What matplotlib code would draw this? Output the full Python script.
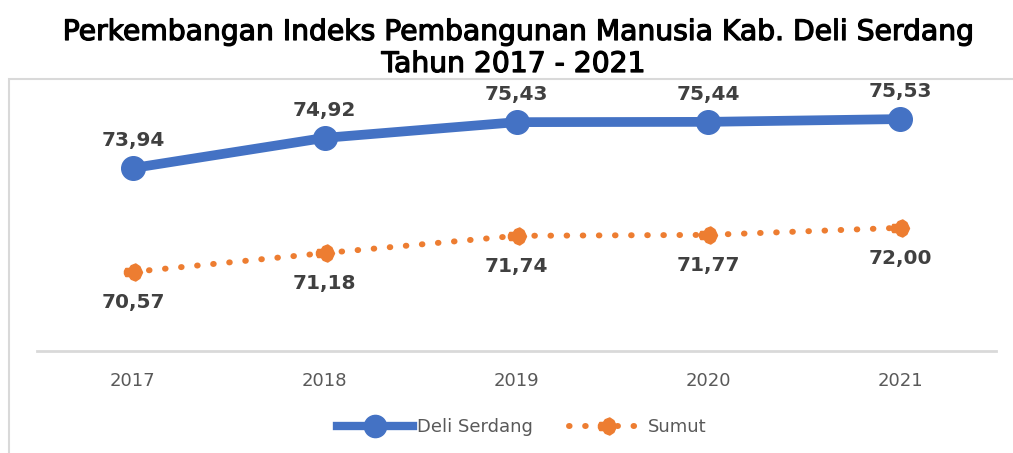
import matplotlib
matplotlib.use("Agg")
import matplotlib.pyplot as plt
import matplotlib.patheffects as pe
from matplotlib.path import Path
from matplotlib.patches import Rectangle
from matplotlib.lines import Line2D

years = ["2017", "2018", "2019", "2020", "2021"]
deli_serdang = [73.94, 74.92, 75.43, 75.44, 75.53]
sumut = [70.57, 71.18, 71.74, 71.77, 72.00]
title_lines = ["Perkembangan Indeks Pembangunan Manusia Kab. Deli Serdang", "Tahun 2017 - 2021"]
series_names = ["Deli Serdang", "Sumut"]

blue = "#4472C4"
orange = "#ED7D31"
label_col = "#404040"
tick_col = "#595959"

W, H = 1013, 453

verts = [(-1, 0.15), (-0.85, 0.45), (-0.45, 0.45), (-0.25, 0.75), (0.25, 0.95),
         (0.7, 0.65), (1, 0), (0.7, -0.65), (0.25, -0.95), (-0.25, -0.75),
         (-0.45, -0.45), (-0.85, -0.45), (-1, -0.15), (-1, 0.15)]
arrow_marker = Path(verts, [Path.MOVETO] + [Path.LINETO] * (len(verts) - 2) + [Path.CLOSEPOLY])

fig = plt.figure(figsize=(W / 100, H / 100), dpi=100)
fig.patch.set_facecolor("white")

# chart frame
fig.add_artist(Rectangle((9 / W, -0.1), 1.2, 1 - 79 / H + 0.1, transform=fig.transFigure,
                         fill=False, edgecolor="#d9d9d9", lw=1.5))

ax = fig.add_axes([37 / W, 1 - 351 / H, (996 - 37) / W, 246.4 / H])
x = list(range(len(years)))

ax.plot(x, deli_serdang, color=blue, lw=7, marker="o", markersize=17,
        solid_capstyle="round", zorder=3)
ax.plot(x, sumut, color=orange, lw=4.3, linestyle=(0, (0.1, 2.6)),
        dash_capstyle="round", marker=arrow_marker, markersize=13, zorder=3)

for xi, v in zip(x, deli_serdang):
    ax.annotate(f"{v:.2f}".replace(".", ","), (xi, v), xytext=(0, 20),
                textcoords="offset points", ha="center", va="center",
                fontsize=14.5, fontweight="bold", color=label_col)
for xi, v in zip(x, sumut):
    ax.annotate(f"{v:.2f}".replace(".", ","), (xi, v), xytext=(0, -22),
                textcoords="offset points", ha="center", va="center",
                fontsize=14.5, fontweight="bold", color=label_col)

ax.set_xlim(-0.5, 4.5)
ax.set_ylim(68, 76)
ax.set_xticks(x)
ax.set_xticklabels(years, fontsize=13, color=tick_col)
ax.tick_params(axis="x", length=0, pad=15)
ax.set_yticks([])
for s in ["top", "left", "right"]:
    ax.spines[s].set_visible(False)
ax.spines["bottom"].set_color("#d9d9d9")
ax.spines["bottom"].set_linewidth(2)
ax.set_facecolor("none")

stroke = [pe.withStroke(linewidth=0.9, foreground="black")]
fig.text(519 / W, 1 - 40 / H, title_lines[0], ha="center", va="baseline", fontsize=20.3,
         color="black", path_effects=stroke)
fig.text(514 / W, 1 - 72 / H, title_lines[1], ha="center", va="baseline", fontsize=20.3,
         color="black", path_effects=stroke)

handles = [
    Line2D([], [], color=blue, lw=6, marker="o", markersize=16),
    Line2D([], [], color=orange, lw=4.3, linestyle=(0, (0.1, 2.6)), dash_capstyle="round",
           marker=arrow_marker, markersize=13),
]
fig.legend(handles, series_names, loc="center", bbox_to_anchor=(522 / W, 1 - 427 / H),
           ncol=2, frameon=False, fontsize=13, handlelength=4.2, columnspacing=2.0,
           handletextpad=0.2, labelcolor=tick_col)

fig.savefig("out.png", dpi=100, facecolor="white")
